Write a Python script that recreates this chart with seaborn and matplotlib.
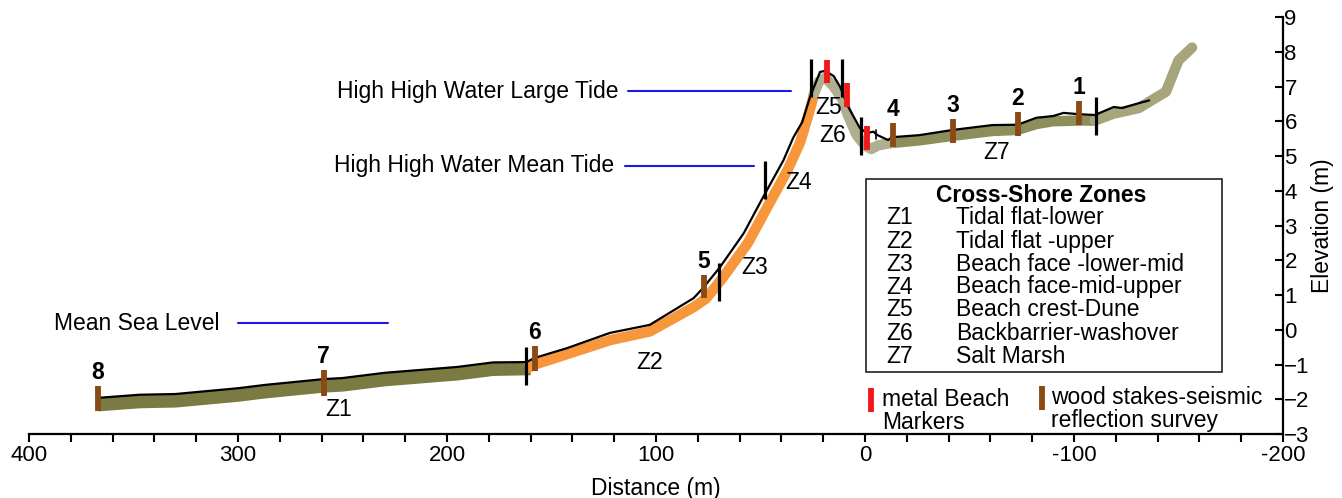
import numpy as np
import seaborn as sns
import matplotlib
matplotlib.use("Agg")
from matplotlib import pyplot as plt
from matplotlib.patches import Rectangle

# surveyed profile (black line), distance (m) / elevation (m)
profile_d = [367, 347, 330, 299.5, 287.5, 259, 250, 230, 195, 178, 162, 158, 142.6, 122, 103,
             82, 77.5, 69.4, 58, 49, 39, 34.4, 30, 26.3, 21.5, 19, 15, 12, 8, 2.4, -1, -4, -6,
             -11, -13.4, -15, -26, -42, -61, -73, -82, -90, -95, -103, -110, -119, -123, -131.6, -136]
profile_e = [-1.96, -1.87, -1.85, -1.68, -1.59, -1.42, -1.39, -1.24, -1.07, -0.94, -0.93, -0.81, -0.53, -0.09, 0.14,
             0.91, 1.2, 1.8, 2.78, 3.79, 4.88, 5.52, 5.98, 6.7, 7.42, 7.45, 7.3, 7.0, 6.41, 5.8, 5.66, 5.7, 5.6,
             5.46, 5.55, 5.55, 5.6, 5.75, 5.89, 5.9, 6.1, 6.15, 6.24, 6.2, 6.18, 6.41, 6.38, 6.53, 6.6]

# older surface, drawn as coloured bands
tidal_d = [367, 347, 330, 299.5, 287.5, 259, 250, 230, 195, 178, 160]
tidal_e = [-2.16, -2.07, -2.05, -1.88, -1.79, -1.62, -1.59, -1.44, -1.27, -1.14, -1.12]
beach_d = [162, 158, 145, 122, 103, 82, 76, 68, 56, 47, 37, 31, 27, 24.5]
beach_e = [-1.12, -1.0, -0.75, -0.3, -0.05, 0.65, 0.9, 1.5, 2.5, 3.5, 4.6, 5.4, 6.2, 6.75]
dune_d = [25, 22, 19, 15, 11, 8, 4, 0, -3, -6, -10, -14]
dune_e = [6.7, 7.15, 7.25, 7.0, 6.65, 6.15, 5.6, 5.3, 5.2, 5.3, 5.35, 5.38]
marsh_d = [-14, -26, -42, -61, -73, -82, -90, -103, -110]
marsh_e = [5.38, 5.45, 5.58, 5.72, 5.75, 5.92, 6.0, 6.02, 6.02]
upland_d = [-110, -119, -131, -144, -150, -156.5]
upland_e = [6.02, 6.22, 6.38, 6.85, 7.75, 8.12]

# zone boundaries (distance, centre elevation)
bound_d = [162, 70, 48, 26, 11, 2, -110.5]
bound_e = [-1.05, 1.37, 4.3, 7.24, 7.24, 5.57, 6.15]

# metal beach markers (distance, top, bottom)
metal_d = [18, 8.6, -1]
metal_top = [7.76, 7.1, 5.86]
metal_bot = [7.1, 6.41, 5.17]

# wood stakes
stake_lab = ["8", "7", "6", "5", "4", "3", "2", "1"]
stake_d = [367, 259, 158, 77, -13.4, -42, -73, -102.5]
stake_top = [-1.62, -1.16, -0.47, 1.58, 5.95, 6.06, 6.27, 6.58]
stake_bot = [-2.34, -1.9, -1.2, 0.9, 5.26, 5.37, 5.58, 5.9]

# zone labels
zone_lab = ["Z1", "Z2", "Z3", "Z4", "Z5", "Z6", "Z7"]
zone_d = [252, 103, 52.6, 32, 17.2, 15.3, -63]
zone_e = [-2.3, -0.93, 1.8, 4.25, 6.41, 5.6, 5.09]
zone_names = ["Tidal flat-lower", "Tidal flat -upper", "Beach face -lower-mid",
              "Beach face-mid-upper", "Beach crest-Dune", "Backbarrier-washover", "Salt Marsh"]

# tide levels
tide_lab = ["Mean Sea Level", "High High Water Mean Tide", "High High Water Large Tide"]
tide_e = [0.18, 4.72, 6.87]
tide_start = [300, 115, 113.5]
tide_end = [228, 53, 35.5]
tide_text_d = [309, 120, 118]

sns.set_theme(style="white")
plt.rcParams["font.family"] = ["Liberation Sans", "DejaVu Sans"]
plt.rcParams["text.color"] = "black"
plt.rcParams["axes.labelcolor"] = "black"
plt.rcParams["xtick.color"] = "black"
plt.rcParams["ytick.color"] = "black"

FS = 16.5

fig = plt.figure(figsize=(13.42, 4.98), dpi=100)
W, H = 1342, 498
ax = fig.add_axes([29 / W, 64 / H, (1283 - 29) / W, (434 - 17) / H])

# bands
ax.plot(tidal_d, tidal_e, color="#7a7a42", lw=9.5, solid_capstyle="butt", solid_joinstyle="round")
ax.plot(beach_d, beach_e, color="#f8963c", lw=7.5, solid_capstyle="butt", solid_joinstyle="round")
ax.plot(dune_d, dune_e, color="#afaf90", lw=7.5, solid_capstyle="butt", solid_joinstyle="round")
ax.plot(marsh_d, marsh_e, color="#8e8d5c", lw=7.5, solid_capstyle="butt", solid_joinstyle="round")
ax.plot(upland_d, upland_e, color="#a6a57c", lw=7.5, solid_capstyle="round", solid_joinstyle="round")

sns.lineplot(x=profile_d, y=profile_e, sort=False, estimator=None, color="black", lw=1.6, ax=ax)

# tide lines
for lab, e, s, t, td in zip(tide_lab, tide_e, tide_start, tide_end, tide_text_d):
    ax.plot([s, t], [e, e], color="#1a1ae6", lw=1.5)
    ax.text(td, e, lab, ha="right", va="center", fontsize=FS)

# zone boundaries
for d, e in zip(bound_d, bound_e):
    ax.plot([d, d], [e - 0.55, e + 0.55], color="black", lw=2.3, solid_capstyle="butt")
ax.plot([-5.5, -5.5], [5.5, 5.75], color="black", lw=1.2)

# metal markers
for d, t, b in zip(metal_d, metal_top, metal_bot):
    ax.plot([d, d], [b, t], color="#f01818", lw=4.2, solid_capstyle="butt")

# wood stakes
for lab, d, t, b in zip(stake_lab, stake_d, stake_top, stake_bot):
    ax.plot([d, d], [b, t], color="#8b4a14", lw=4.2, solid_capstyle="butt")
    ax.text(d, t + 0.06, lab, ha="center", va="bottom", fontsize=FS, fontweight="bold")

for lab, d, e in zip(zone_lab, zone_d, zone_e):
    ax.text(d, e, lab, ha="center", va="center", fontsize=FS)

ax.set_xlim(400, -200)
ax.set_ylim(-3, 9)
ax.set_xticks(np.arange(400, -201, -20))
ax.set_xticklabels([str(v) if v % 100 == 0 else "" for v in range(400, -201, -20)])
ax.set_yticks(np.arange(-3, 10, 1))
ax.yaxis.tick_right()
ax.yaxis.set_label_position("right")
ax.tick_params(axis="x", direction="out", length=6, width=1.5, labelsize=16, pad=2, bottom=True)
ax.tick_params(axis="y", direction="in", length=6, width=1.5, labelsize=16, pad=1, right=True, left=False)
ax.set_xlabel("Distance (m)", fontsize=FS, labelpad=8)
ax.set_ylabel("Elevation (m)", fontsize=FS, labelpad=1)
for side in ["top", "left"]:
    ax.spines[side].set_visible(False)
for side in ["bottom", "right"]:
    ax.spines[side].set_color("black")
    ax.spines[side].set_linewidth(1.6)
ax.grid(False)

# zone legend box
def fx(px):
    return px / W

def fy(py):
    return 1 - py / H

fig.patches.append(Rectangle((fx(866), fy(372)), fx(1222) - fx(866), fy(179) - fy(372),
                             transform=fig.transFigure, fill=False, edgecolor="#222222", lw=1.2))
fig.text(fx(1041), fy(196), "Cross-Shore Zones", ha="center", va="center", fontsize=FS, fontweight="bold")
for i, (z, n) in enumerate(zip(zone_lab, zone_names)):
    y = 218 + 23 * i
    fig.text(fx(886), fy(y), z, ha="left", va="center", fontsize=FS)
    fig.text(fx(956), fy(y), n, ha="left", va="center", fontsize=FS)

fig.add_artist(plt.Line2D([fx(871), fx(871)], [fy(388), fy(412)], color="#f01818", lw=4.2,
                          solid_capstyle="butt"))
fig.text(fx(882), fy(399), "metal Beach", ha="left", va="center", fontsize=FS)
fig.text(fx(882), fy(422), "Markers", ha="left", va="center", fontsize=FS)
fig.add_artist(plt.Line2D([fx(1042), fx(1042)], [fy(386), fy(410)], color="#8b4a14", lw=4.2,
                          solid_capstyle="butt"))
fig.text(fx(1051), fy(398), "wood stakes-seismic", ha="left", va="center", fontsize=FS)
fig.text(fx(1051), fy(421), "reflection survey", ha="left", va="center", fontsize=FS)

fig.savefig("out.png", dpi=100)
